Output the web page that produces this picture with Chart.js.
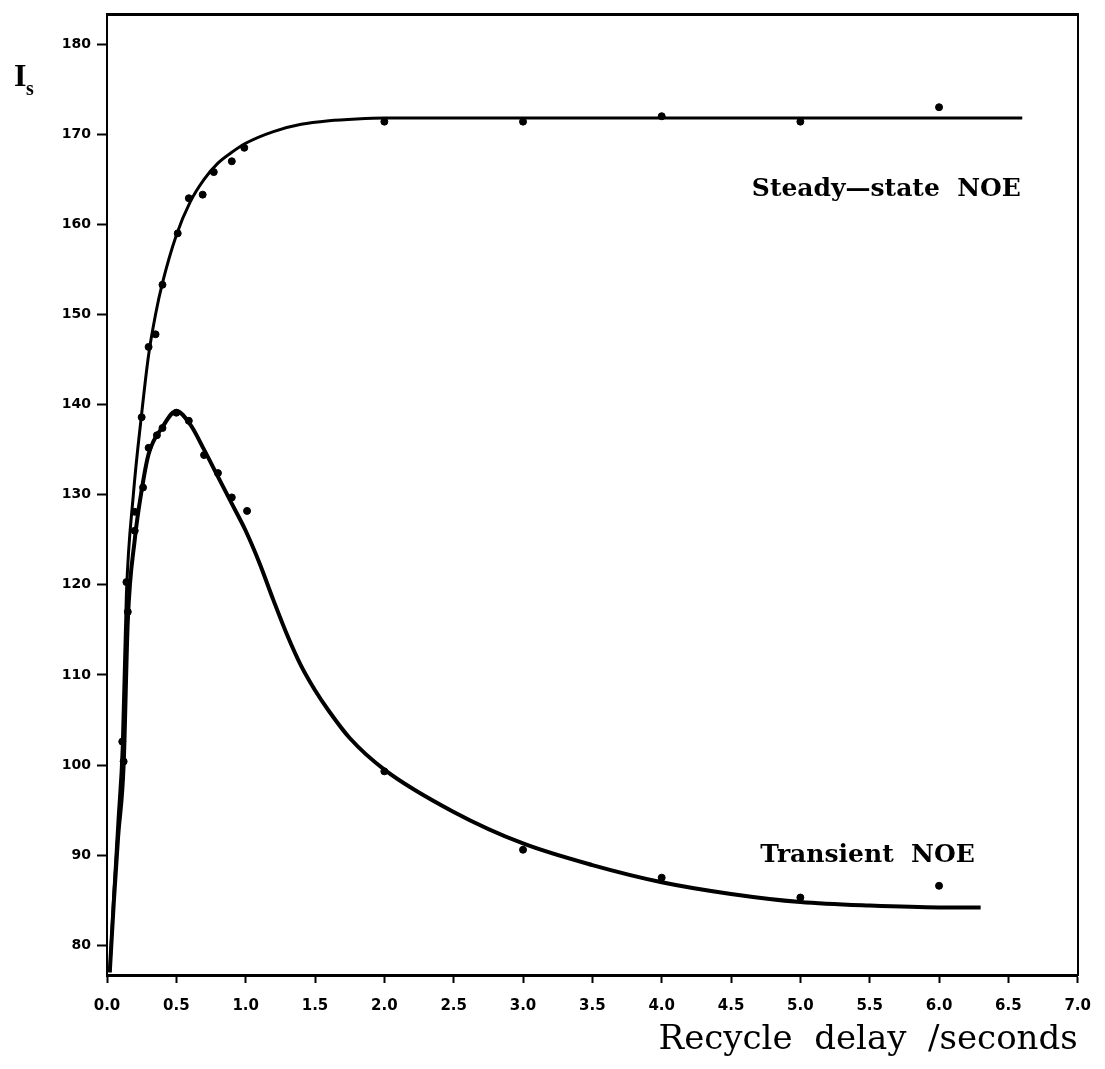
<!DOCTYPE html>
<html>
<head>
<meta charset="utf-8">
<script src="https://cdn.jsdelivr.net/npm/chart.js@4.4.0/dist/chart.umd.min.js"></script>
<style>
body{margin:0;background:#fff}
.wrap{width:1105px;height:1069px;position:relative}
</style>
</head>
<body>
<div class="wrap"><canvas id="c"></canvas></div>
<script>
// axis ticks
const xTicks=[0,0.5,1,1.5,2,2.5,3,3.5,4,4.5,5,5.5,6,6.5,7];
const xTickLabels=['0.0','0.5','1.0','1.5','2.0','2.5','3.0','3.5','4.0','4.5','5.0','5.5','6.0','6.5','7.0'];
const yTicks=[80,90,100,110,120,130,140,150,160,170,180];

// measured points, steady-state NOE
const steadyX=[0.11,0.14,0.2,0.25,0.3,0.35,0.4,0.51,0.59,0.69,0.77,0.9,0.99,2,3,4,5,6];
const steadyY=[102.6,120.3,128.1,138.6,146.4,147.8,153.3,159.0,162.9,163.3,165.8,167.0,168.5,171.4,171.4,172.0,171.4,173.0];

// measured points, transient NOE
const transX=[0.12,0.15,0.2,0.26,0.3,0.36,0.4,0.5,0.59,0.7,0.8,0.9,1.01,2,3,4,5,6];
const transY=[100.4,117.0,126.0,130.8,135.2,136.6,137.4,139.1,138.2,134.4,132.4,129.7,128.2,99.3,90.6,87.5,85.3,86.6];

// fitted curves
const steadyFitX=[0.02,0.05,0.08,0.11,0.14,0.19,0.25,0.3,0.35,0.4,0.5,0.6,0.7,0.8,0.9,1.0,1.2,1.4,1.6,1.8,2.0,3.0,4.0,5.0,6.0,6.6];
const steadyFitY=[77,86,94,102,119,130,139,145.5,150,153.5,158.8,162.5,165,166.8,168,169,170.3,171.1,171.5,171.7,171.8,171.8,171.8,171.8,171.8,171.8];
const transFitX=[0.02,0.05,0.08,0.12,0.15,0.2,0.25,0.3,0.4,0.5,0.6,0.7,0.8,0.9,1.0,1.1,1.2,1.3,1.4,1.5,1.6,1.75,2.0,2.5,3.0,3.5,4.0,4.5,5.0,5.5,6.0,6.3];
const transFitY=[77,85,92,100,116,125,130.5,134.5,137.5,139.3,137.8,135,132,129,126,122.4,118.3,114.4,111,108.3,106,103,99.5,94.8,91.3,88.9,87,85.7,84.8,84.4,84.2,84.2];

function pts(xs,ys){ return xs.map((v,i)=>({x:v,y:ys[i]})) }

const notes={
  id:'notes',
  afterDraw(chart){
    const ctx=chart.ctx, x=chart.scales.x, y=chart.scales.y;
    ctx.save();
    ctx.fillStyle='#000';
    ctx.textBaseline='alphabetic';
    ctx.font='bold 25px "DejaVu Serif"';
    ctx.fillText('Steady\u2014state  NOE', x.getPixelForValue(4.65), y.getPixelForValue(163.1));
    ctx.fillText('Transient  NOE', x.getPixelForValue(4.71), y.getPixelForValue(89.2));
    // y axis label I with subscript s
    ctx.font='bold 32px "Liberation Serif"';
    ctx.fillText('I', 14, 86);
    ctx.font='bold 20px "Liberation Serif"';
    ctx.fillText('s', 26, 95);
    ctx.restore();
  }
};

new Chart(document.getElementById('c'),{
  type:'line',
  data:{
    datasets:[
      {data:pts(steadyFitX,steadyFitY),borderColor:'#000',borderWidth:3,pointRadius:0,cubicInterpolationMode:'monotone'},
      {data:pts(transFitX,transFitY),borderColor:'#000',borderWidth:4,pointRadius:0,cubicInterpolationMode:'monotone'},
      {data:pts(steadyX,steadyY),showLine:false,pointRadius:3.5,pointBackgroundColor:'#000',pointBorderColor:'#000'},
      {data:pts(transX,transY),showLine:false,pointRadius:3.5,pointBackgroundColor:'#000',pointBorderColor:'#000'}
    ]
  },
  options:{
    responsive:true,
    maintainAspectRatio:false,
    animation:false,
    layout:{padding:{top:8,left:0,right:0,bottom:0}},
    plugins:{legend:{display:false},tooltip:{enabled:false}},
    scales:{
      x:{
        type:'linear',min:0,max:7,
        afterBuildTicks:s=>{s.ticks=xTicks.map(v=>({value:v}))},
        ticks:{callback:v=>xTickLabels[xTicks.indexOf(v)],color:'#000',font:{family:'DejaVu Sans',weight:'bold',size:15},padding:14,maxRotation:0,autoSkip:false},
        grid:{drawOnChartArea:false,drawTicks:true,tickLength:8,tickWidth:2,color:'#000'},
        border:{color:'#000',width:3},
        title:{display:true,text:'Recycle  delay  /seconds',align:'end',color:'#000',font:{family:'DejaVu Serif',size:34},padding:{top:4,bottom:8}},
        afterFit:s=>{s.height=94}
      },
      y:{
        type:'linear',min:76.7,max:183.3,
        afterBuildTicks:s=>{s.ticks=yTicks.map(v=>({value:v}))},
        ticks:{color:'#000',font:{family:'DejaVu Sans',weight:'bold',size:14},padding:6},
        grid:{drawOnChartArea:false,drawTicks:true,tickLength:10,tickWidth:2,color:'#000'},
        border:{color:'#000',width:2},
        afterFit:s=>{s.width=107}
      },
      x2:{
        type:'linear',position:'top',min:0,max:7,
        ticks:{display:false},
        grid:{drawOnChartArea:false,drawTicks:false},
        border:{color:'#000',width:3},
        afterFit:s=>{s.height=0}
      },
      y2:{
        type:'linear',position:'right',min:76.7,max:183.3,
        ticks:{display:false},
        grid:{drawOnChartArea:false,drawTicks:false},
        border:{color:'#000',width:2},
        afterFit:s=>{s.width=14}
      }
    }
  },
  plugins:[notes]
});
</script>
</body>
</html>
